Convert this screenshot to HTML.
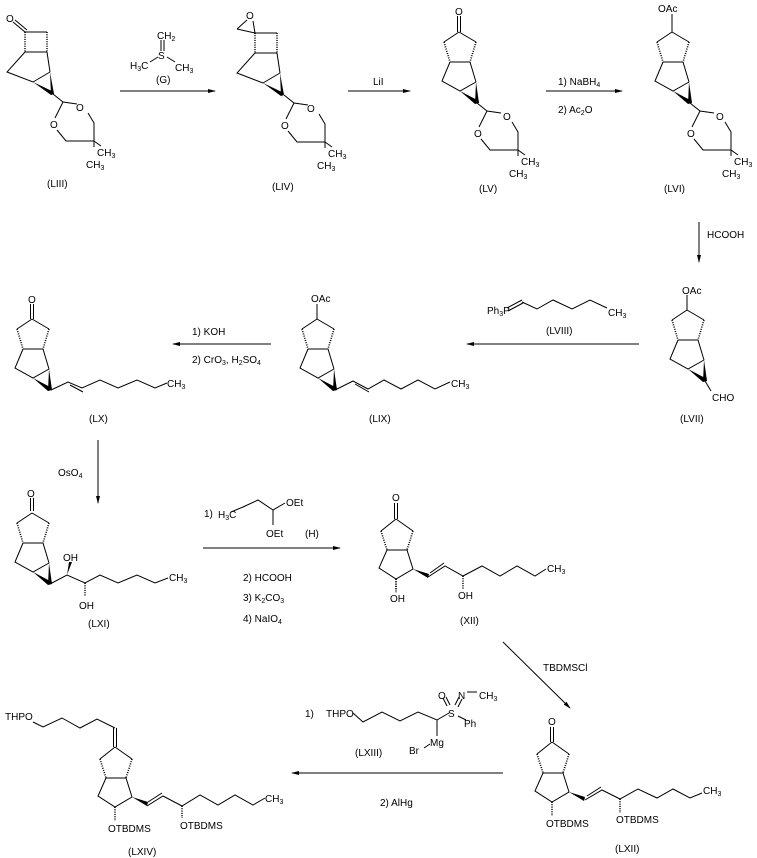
<!DOCTYPE html>
<html><head><meta charset="utf-8"><style>
html,body{margin:0;padding:0;background:#fff;}
svg{display:block;}
text{font-family:"Liberation Sans",sans-serif;font-size:10px;fill:#000;}
.s{font-size:7px;}
</style></head><body>
<svg width="757" height="858" viewBox="0 0 757 858" xmlns="http://www.w3.org/2000/svg">
<defs>
<g id="cp" stroke="#000" stroke-width="1" fill="none">
  <path d="M0,0 L-15,10 M0,0 L17,10 M-9,30 L11,30 L17,50 M-9,30 L-17,49 L1,59 L17,50"/>
  <path d="M-15,10 L-9,30 M17,10 L11,30" stroke-dasharray="1,1.3" stroke-width="1.6"/>
  <polygon points="1,59 16,72 20,69" fill="#000" stroke="none"/>
  <polygon points="17,50 16,72 20,71" fill="#000" stroke="none"/>
</g>
<g id="pg" stroke="#000" stroke-width="1" fill="none">
  <path d="M0,0 L-15,12 M0,0 L17,12 M-9,31 L11,31 L17,50 L0,60 L-17,49 L-9,31"/>
  <path d="M-15,12 L-9,31 M17,12 L11,31 M0,60 L0,74" stroke-dasharray="1,1.3" stroke-width="1.6"/>
  <polygon points="17,50 33,55 32,59" fill="#000" stroke="none"/>
</g>
<g id="cb" stroke="#000" stroke-width="1" fill="none">
  <path d="M0,0 L22,0 M0,20 L22,20 M0,20 L-18,40 L8,50 L25,40 M22,20 L25,40"/>
  <path d="M0,0 L0,20 M22,0 L22,20" stroke-dasharray="1,1.3" stroke-width="1.6"/>
  <polygon points="8,50 26,63 29,60" fill="#000" stroke="none"/>
  <polygon points="25,40 26,63 29,62" fill="#000" stroke="none"/>
</g>
<g id="dx" stroke="#000" stroke-width="1" fill="none">
  <path d="M0,0 L10,8 L24,10 M35,19 L41,29 L41,47 L13,47 L4,36 M2,24 L10,8 M41,47 L48,52 M41,47 L41,53"/>
</g>
<marker id="ah" markerWidth="8" markerHeight="6" refX="7" refY="3" orient="auto" markerUnits="userSpaceOnUse">
  <polygon points="0,1 8,3 0,5" fill="#000"/>
</marker>
</defs>
<g stroke="#000" stroke-width="1" fill="none">
  <!-- arrows -->
  <line x1="120" y1="91" x2="215" y2="91" marker-end="url(#ah)"/>
  <line x1="348" y1="91" x2="410" y2="91" marker-end="url(#ah)"/>
  <line x1="546" y1="91" x2="622" y2="91" marker-end="url(#ah)"/>
  <line x1="699" y1="222" x2="699" y2="262" marker-end="url(#ah)"/>
  <line x1="639" y1="344" x2="467" y2="344" marker-end="url(#ah)"/>
  <line x1="271" y1="344" x2="173" y2="344" marker-end="url(#ah)"/>
  <line x1="98" y1="440" x2="98" y2="503" marker-end="url(#ah)"/>
  <line x1="203" y1="548" x2="340" y2="548" marker-end="url(#ah)"/>
  <line x1="503" y1="642" x2="570" y2="708" marker-end="url(#ah)"/>
  <line x1="503" y1="773" x2="292" y2="773" marker-end="url(#ah)"/>
  <!-- G -->
  <path d="M161,40 L161,51 M164,40 L164,51 M150,62 L158,57 M167,57 L175,62"/>
  <!-- LIII -->
  <path d="M13,22 L25,32 M15,20 L27,30"/>
  <!-- LIV epoxide -->
  <path d="M237,29 L255,33 M237,29 L247,20 M255,33 L253,21"/>
  <!-- LV / LX / LXI carbonyl -->
  <path d="M457.5,16 L457.5,32 M460.5,16 L460.5,32"/>
  <path d="M30.5,304 L30.5,319 M33.5,304 L33.5,319"/>
  <path d="M30.5,498 L30.5,511 M33.5,498 L33.5,511"/>
  <path d="M394.5,503 L394.5,519 M397.5,503 L397.5,519"/>
  <path d="M550.5,727 L550.5,742 M553.5,727 L553.5,742"/>
  <!-- OAc stubs -->
  <path d="M672,14 L672,32 M687,295 L687,310 M317,304 L317,319"/>
  <!-- LVII CHO -->
  <path d="M705,381 L711,391"/>
  <!-- Ph3P chain -->
  <path d="M507,308 L522,300 M508,311 L523,303 M522,302 L537,309 L553,300 L572,309 L590,300 L607,308"/>
  <!-- LIX chain -->
  <path d="M335,390 L353,381 L368,389 L384,380 L401,389 L418,380 L435,389 L450,382 M355,384 L369,392"/>
  <!-- LX chain -->
  <path d="M51,390 L68,382 L82,388 L100,380 L118,388 L137,380 L155,388 L167,383 M70,385 L83,392"/>
  <!-- LXI chain -->
  <path d="M50,584 L67,575 L85,583 L100,575 L118,583 L137,575 L155,583 L168,578"/>
  <path d="M85,583 L85,596" stroke-dasharray="1,1.3" stroke-width="1.6"/>
  <!-- H reagent -->
  <path d="M231,512 L243,507 L258,500 L273,510 L285,503 M273,510 L273,525"/>
  <!-- XII chain -->
  <path d="M428,577 L445,566 L463,576 L482,566 L500,576 L517,566 L535,576 L546,569 M430,573 L444,563"/>
  <path d="M463,576 L463,589 M396,579 L396,590" stroke-dasharray="1,1.3" stroke-width="1.6"/>
  <!-- LXII chain -->
  <path d="M585,800 L602,790 L620,799 L638,789 L657,798 L673,789 L690,798 L702,793 M587,796 L601,787"/>
  <path d="M620,799 L620,813" stroke-dasharray="1,1.3" stroke-width="1.6"/>
  <!-- LXIII -->
  <path d="M353,713 L363,722 L382,712 L400,721 L418,712 L437,720 L449,713 M437,720 L437,736 M424,748 L430,744 M447,706 L443,698 M450,705 L446,697 M455,705 L459,697 M458,707 L462,699 M467,692 L477,692 M458,716 L466,720"/>
  <!-- LXIV -->
  <path d="M33,722 L43,727 L62,718 L80,728 L97,719 L115,728 M113.5,728 L113.5,747 M116.5,728 L116.5,747 M147,806 L163,796 L182,806 L200,795 L218,805 L235,795 L253,805 L265,798 M148,802 L162,793"/>
  <path d="M182,806 L182,818" stroke-dasharray="1,1.3" stroke-width="1.6"/>
</g>
<polygon points="67,575 69,562 72,562" fill="#000"/>
<use href="#cb" x="25" y="32"/>
<use href="#dx" x="53" y="94"/>
<use href="#cb" x="255" y="33"/>
<use href="#dx" x="284" y="95"/>
<use href="#cp" x="459" y="32"/>
<use href="#dx" x="477" y="103"/>
<use href="#cp" x="672" y="32"/>
<use href="#dx" x="690" y="103"/>
<use href="#cp" x="687" y="310"/>
<use href="#cp" x="317" y="319"/>
<use href="#cp" x="32" y="319"/>
<use href="#cp" x="32" y="513"/>
<use href="#pg" x="396" y="519"/>
<use href="#pg" x="552" y="742"/>
<use href="#pg" x="115" y="747"/>

<!-- text -->
<text x="6" y="22">O</text>
<text x="246" y="19">O</text>
<text x="455" y="15">O</text>
<text x="28" y="303">O</text>
<text x="27" y="497">O</text>
<text x="392" y="501">O</text>
<text x="548" y="725">O</text>
<text x="658" y="12">OAc</text>
<text x="682" y="294">OAc</text>
<text x="311" y="302">OAc</text>
<text x="712" y="401">CHO</text>
<!-- dioxane labels -->
<g>
<text x="76" y="111">O</text><text x="50" y="128">O</text>
<text x="97" y="156">CH<tspan class="s" dy="2">3</tspan></text><text x="86" y="168">CH<tspan class="s" dy="2">3</tspan></text>
<text x="307" y="112">O</text><text x="281" y="129">O</text>
<text x="328" y="157">CH<tspan class="s" dy="2">3</tspan></text><text x="317" y="169">CH<tspan class="s" dy="2">3</tspan></text>
<text x="503" y="120">O</text><text x="474" y="137">O</text>
<text x="521" y="165">CH<tspan class="s" dy="2">3</tspan></text><text x="509" y="177">CH<tspan class="s" dy="2">3</tspan></text>
<text x="716" y="120">O</text><text x="687" y="137">O</text>
<text x="734" y="165">CH<tspan class="s" dy="2">3</tspan></text><text x="722" y="177">CH<tspan class="s" dy="2">3</tspan></text>
</g>
<text x="157" y="39">CH<tspan class="s" dy="2">2</tspan></text>
<text x="158" y="59">S</text>
<text x="130" y="69">H<tspan class="s" dy="2">3</tspan><tspan dy="-2">C</tspan></text>
<text x="175" y="71">CH<tspan class="s" dy="2">3</tspan></text>
<text x="156" y="83">(G)</text>
<text x="373" y="85">LiI</text>
<text x="558" y="85">1) NaBH<tspan class="s" dy="2">4</tspan></text>
<text x="558" y="113">2) Ac<tspan class="s" dy="2">2</tspan><tspan dy="-2">O</tspan></text>
<text x="707" y="238">HCOOH</text>
<text x="487" y="314">Ph<tspan class="s" dy="2">3</tspan><tspan dy="-2">P</tspan></text>
<text x="608" y="316">CH<tspan class="s" dy="2">3</tspan></text>
<text x="546" y="334">(LVIII)</text>
<text x="451" y="387">CH<tspan class="s" dy="2">3</tspan></text>
<text x="167" y="387">CH<tspan class="s" dy="2">3</tspan></text>
<text x="192" y="335">1) KOH</text>
<text x="192" y="363">2) CrO<tspan class="s" dy="2">3</tspan><tspan dy="-2">, H</tspan><tspan class="s" dy="2">2</tspan><tspan dy="-2">SO</tspan><tspan class="s" dy="2">4</tspan></text>
<text x="58" y="476">OsO<tspan class="s" dy="2">4</tspan></text>
<text x="63" y="561">OH</text>
<text x="79" y="609">OH</text>
<text x="169" y="581">CH<tspan class="s" dy="2">3</tspan></text>
<text x="204" y="517">1)</text>
<text x="218" y="518">H<tspan class="s" dy="2">3</tspan><tspan dy="-2">C</tspan></text>
<text x="286" y="506">OEt</text>
<text x="266" y="537">OEt</text>
<text x="305" y="537">(H)</text>
<text x="243" y="581">2) HCOOH</text>
<text x="243" y="601">3) K<tspan class="s" dy="2">2</tspan><tspan dy="-2">CO</tspan><tspan class="s" dy="2">3</tspan></text>
<text x="243" y="622">4) NaIO<tspan class="s" dy="2">4</tspan></text>
<text x="547" y="572">CH<tspan class="s" dy="2">3</tspan></text>
<text x="390" y="602">OH</text>
<text x="458" y="599">OH</text>
<text x="543" y="671">TBDMSCl</text>
<text x="703" y="794">CH<tspan class="s" dy="2">3</tspan></text>
<text x="546" y="827">OTBDMS</text>
<text x="616" y="823">OTBDMS</text>
<text x="305" y="717">1)</text>
<text x="326" y="717">THPO</text>
<text x="448" y="717">S</text>
<text x="438" y="699">O</text>
<text x="458" y="699">N</text>
<text x="479" y="699">CH<tspan class="s" dy="2">3</tspan></text>
<text x="464" y="727">Ph</text>
<text x="430" y="746">Mg</text>
<text x="409" y="754">Br</text>
<text x="355" y="756">(LXIII)</text>
<text x="380" y="806">2) AlHg</text>
<text x="5" y="720">THPO</text>
<text x="265" y="802">CH<tspan class="s" dy="2">3</tspan></text>
<text x="108" y="832">OTBDMS</text>
<text x="180" y="829">OTBDMS</text>
<!-- labels -->
<text x="47" y="187">(LIII)</text>
<text x="272" y="190">(LIV)</text>
<text x="479" y="192">(LV)</text>
<text x="664" y="192">(LVI)</text>
<text x="680" y="422">(LVII)</text>
<text x="369" y="422">(LIX)</text>
<text x="89" y="422">(LX)</text>
<text x="88" y="627">(LXI)</text>
<text x="460" y="624">(XII)</text>
<text x="615" y="852">(LXII)</text>
<text x="128" y="855">(LXIV)</text>
</svg>
</body></html>
